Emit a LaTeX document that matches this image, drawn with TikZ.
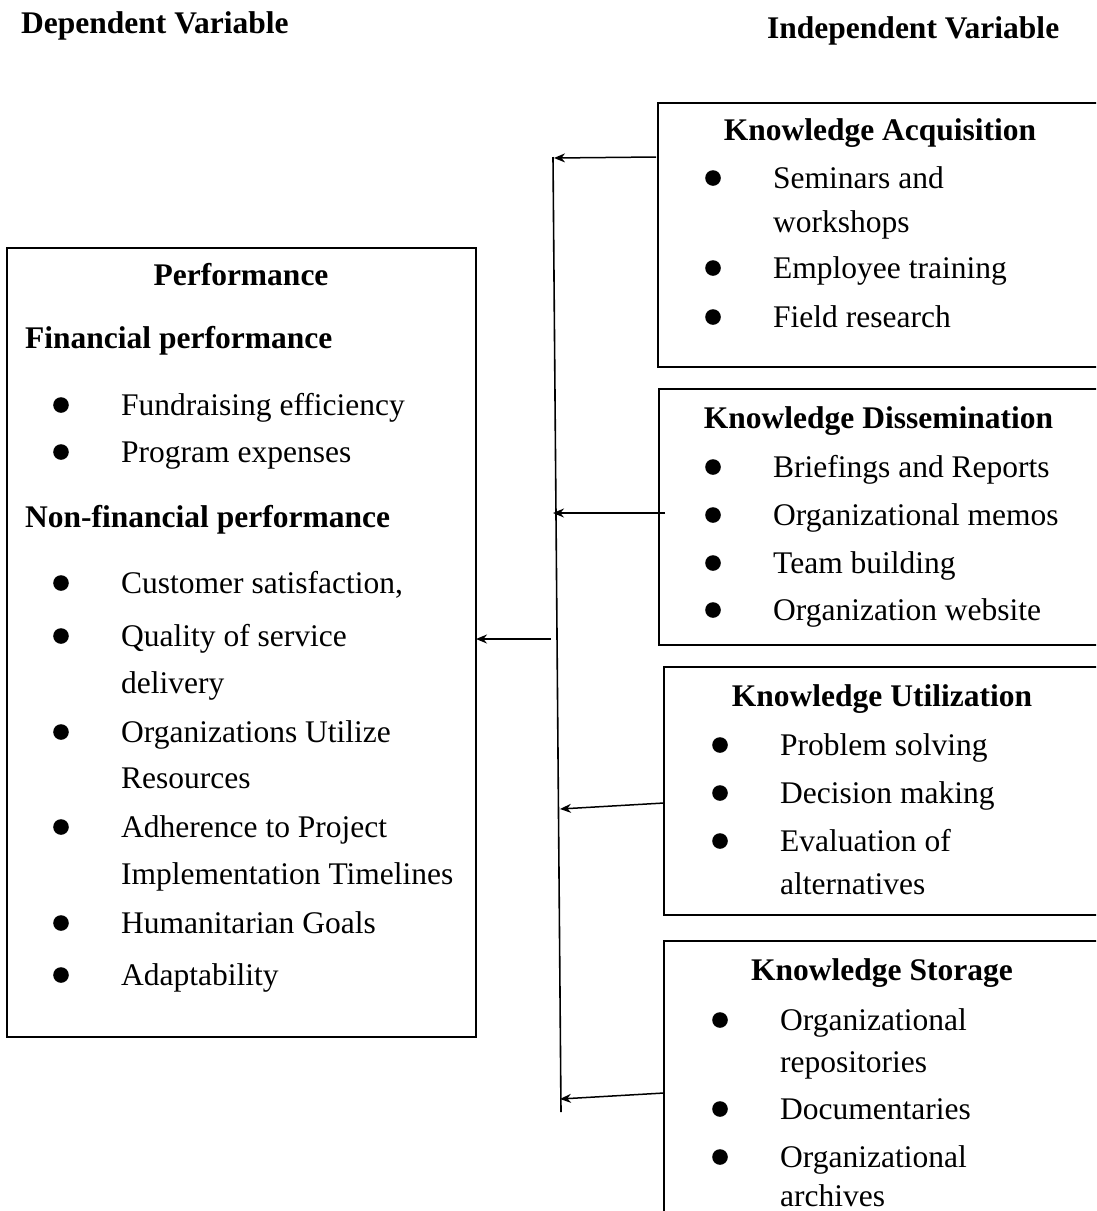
\documentclass[tikz,border=0pt]{standalone}
\usepackage{fontspec}
\setmainfont{Liberation Serif}
\usetikzlibrary{arrows.meta,calc}
\begin{document}
\begin{tikzpicture}[x=1pt,y=-1pt,
  txt/.style={font=\fontsize{31.5pt}{38pt}\selectfont, inner sep=0pt, anchor=base west},
  head/.style={font=\fontsize{31.5pt}{38pt}\selectfont\bfseries, inner sep=0pt, anchor=base},
  headl/.style={font=\fontsize{31.5pt}{38pt}\selectfont\bfseries, inner sep=0pt, anchor=base west},
  box/.style={draw, line width=1.6pt, inner sep=0pt, outer sep=0pt, rectangle},
  bul/.style={fill=black},
  arr/.style={line width=1.5pt, -{Stealth[length=11pt,width=9pt]}},
  bus/.style={line width=1.6pt}]
\useasboundingbox (0,0) rectangle (1096,1211);
\clip (0,0) rectangle (1096,1211);
\fill[white] (0,0) rectangle (1096,1211);

% column titles
\node[headl] (dep) at (21,33) {Dependent Variable};
\node[headl] (indep) at (767,38) {Independent Variable};

% boxes
\node[box, minimum width=469pt, minimum height=789pt] (perf) at (241.5,642.5) {};
\node[box, minimum width=452pt, minimum height=264pt] (acq) at (884,235) {};
\node[box, minimum width=451pt, minimum height=256pt] (dis) at (884.5,517) {};
\node[box, minimum width=446pt, minimum height=248pt] (uti) at (887,791) {};
\node[box, minimum width=446pt, minimum height=289pt] (sto) at (887,1085.5) {};

% dependent variable: performance
\node[head] (pt) at (241,285) {Performance};
\node[headl] (fin) at (25,348) {Financial performance};
\node[txt] (p1) at (121,415) {Fundraising efficiency};
\node[txt] (p2) at (121,462) {Program expenses};
\node[headl] (nfin) at (25,527) {Non-financial performance};
\node[txt] (p3) at (121,593) {Customer satisfaction,};
\node[txt] (p4) at (121,646) {Quality of service};
\node[txt] (p4b) at (121,693) {delivery};
\node[txt] (p5) at (121,742) {Organizations Utilize};
\node[txt] (p5b) at (121,788) {Resources};
\node[txt] (p6) at (121,837) {Adherence to Project};
\node[txt] (p6b) at (121,884) {Implementation Timelines};
\node[txt] (p7) at (121,933) {Humanitarian Goals};
\node[txt] (p8) at (121,985) {Adaptability};
\foreach \y in {415,462,593,646,742,837,933,985}
  \fill[bul] (61,\y-10) circle (7.8);

% knowledge acquisition
\node[head] (at) at (880,140) {Knowledge Acquisition};
\node[txt] (a1) at (773,188) {Seminars and};
\node[txt] (a1b) at (773,232) {workshops};
\node[txt] (a2) at (773,278) {Employee training};
\node[txt] (a3) at (773,327) {Field research};
\foreach \y in {188,278,327}
  \fill[bul] (713,\y-10) circle (7.8);

% knowledge dissemination
\node[head] (dt) at (878.5,428) {Knowledge Dissemination};
\node[txt] (d1) at (773,477) {Briefings and Reports};
\node[txt] (d2) at (773,525) {Organizational memos};
\node[txt] (d3) at (773,573) {Team building};
\node[txt] (d4) at (773,620) {Organization website};
\foreach \y in {477,525,573,620}
  \fill[bul] (713,\y-10) circle (7.8);

% knowledge utilization
\node[head] (ut) at (882,706) {Knowledge Utilization};
\node[txt] (u1) at (780,755) {Problem solving};
\node[txt] (u2) at (780,803) {Decision making};
\node[txt] (u3) at (780,851) {Evaluation of};
\node[txt] (u3b) at (780,894) {alternatives};
\foreach \y in {755,803,851}
  \fill[bul] (720,\y-10) circle (7.8);

% knowledge storage
\node[head] (st) at (882,980) {Knowledge Storage};
\node[txt] (s1) at (780,1030) {Organizational};
\node[txt] (s1b) at (780,1072) {repositories};
\node[txt] (s2) at (780,1119) {Documentaries};
\node[txt] (s3) at (780,1167) {Organizational};
\node[txt] (s3b) at (780,1206) {archives};
\foreach \y in {1030,1119,1167}
  \fill[bul] (720,\y-10) circle (7.8);

% collecting bus and arrows
\coordinate (busTop) at (553,157);
\coordinate (busBot) at (561,1112);
\coordinate (busMid) at (551,639);
\coordinate (acqOut) at (656,157);
\coordinate (acqIn) at (554,158);
\coordinate (disOut) at (665,513);
\coordinate (disIn) at (553,513);
\coordinate (utiOut) at (664,803);
\coordinate (utiIn) at (560,809);
\coordinate (stoOut) at (664,1093);
\coordinate (stoIn) at (560,1099);

\draw[bus] (busTop) -- (busBot);
\draw[arr] (acqOut) -- (acqIn);
\draw[arr] (disOut) -- (disIn);
\draw[arr] (utiOut) -- (utiIn);
\draw[arr] (stoOut) -- (stoIn);
\draw[arr] (busMid) -- (busMid -| perf.east);
\end{tikzpicture}
\end{document}
